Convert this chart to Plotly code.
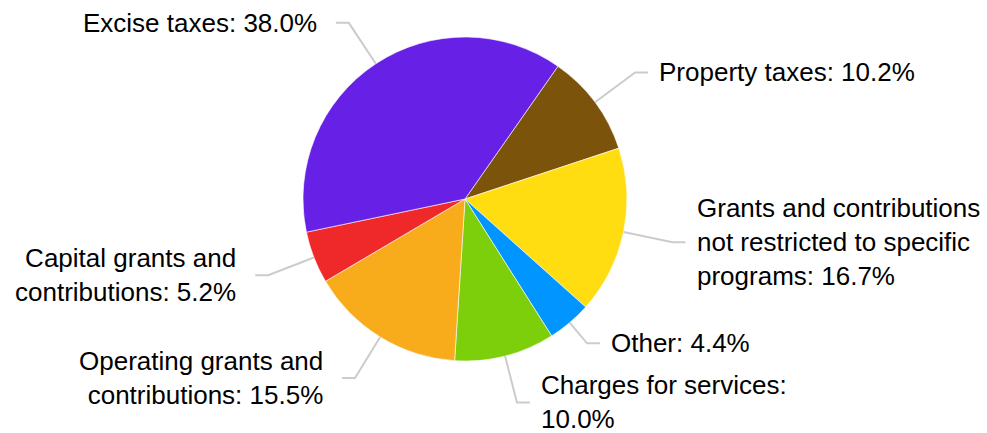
import numpy as np
import plotly.graph_objects as go

# ---- data ----
categories = ["Property taxes", "Grants and contributions not restricted to specific programs",
              "Other", "Charges for services", "Operating grants and contributions",
              "Capital grants and contributions", "Excise taxes"]
label_names = ["Property taxes:", "Grants and contributions<br>not restricted to specific<br>programs:",
               "Other:", "Charges for services:<br>", "Operating grants and<br>contributions:",
               "Capital grants and<br>contributions:", "Excise taxes:"]
values = [10.2, 16.7, 4.4, 10.0, 15.5, 5.2, 38.0]
colors = ["#7B530B", "#FFDD10", "#0095FF", "#7DCF0B", "#F8AB1B", "#EF2929", "#6720E6"]

# ---- layout settings ----
W, H = 987, 433
CX, CY, R = 465, 199, 162
ROT = 35
break_r = [212, 212, 189, 210, 210, 211, 211]
SEG = 13
GAP_R, GAP_L = 9, 17
FONT = "Liberation Sans, Arial, sans-serif"

fig = go.Figure(go.Pie(
    labels=categories, values=values, sort=False, direction="clockwise",
    rotation=ROT, textinfo="none", hoverinfo="skip",
    marker=dict(colors=colors, line=dict(color="white", width=0.6)),
    domain=dict(x=[(CX - R) / W, (CX + R) / W], y=[1 - (CY + R) / H, 1 - (CY - R) / H]),
    showlegend=False,
))

def px(x):
    return x / W

def py(y):
    return 1 - y / H

vals = np.array(values, dtype=float)
cum = np.cumsum(vals) - vals / 2
mids = np.deg2rad(ROT + cum / vals.sum() * 360)

shapes, annotations = [], []
for i, a in enumerate(mids):
    sx, sy = CX + R * np.sin(a), CY - R * np.cos(a)
    bx, by = CX + break_r[i] * np.sin(a), CY - break_r[i] * np.cos(a)
    right = np.sin(a) >= 0
    ex = bx + SEG if right else bx - SEG
    path = f"M {px(sx)} {py(sy)} L {px(bx)} {py(by)} L {px(ex)} {py(by)}"
    shapes.append(dict(type="path", path=path, xref="paper", yref="paper",
                       line=dict(color="#CCCCCC", width=2)))
    name = label_names[i]
    sep = "" if name.endswith("<br>") else " "
    text = f"{name}{sep}{values[i]:.1f}%"
    tx = ex + GAP_R if right else ex - GAP_L
    annotations.append(dict(x=px(tx), y=py(by), xref="paper", yref="paper",
                            text=text, showarrow=False,
                            xanchor="left" if right else "right", yanchor="middle",
                            align="left" if right else "right",
                            font=dict(family=FONT, size=26, color="#000000")))

fig.update_layout(width=W, height=H, margin=dict(l=0, r=0, t=0, b=0),
                  paper_bgcolor="white", plot_bgcolor="white",
                  shapes=shapes, annotations=annotations)

fig.write_html("out.html")
